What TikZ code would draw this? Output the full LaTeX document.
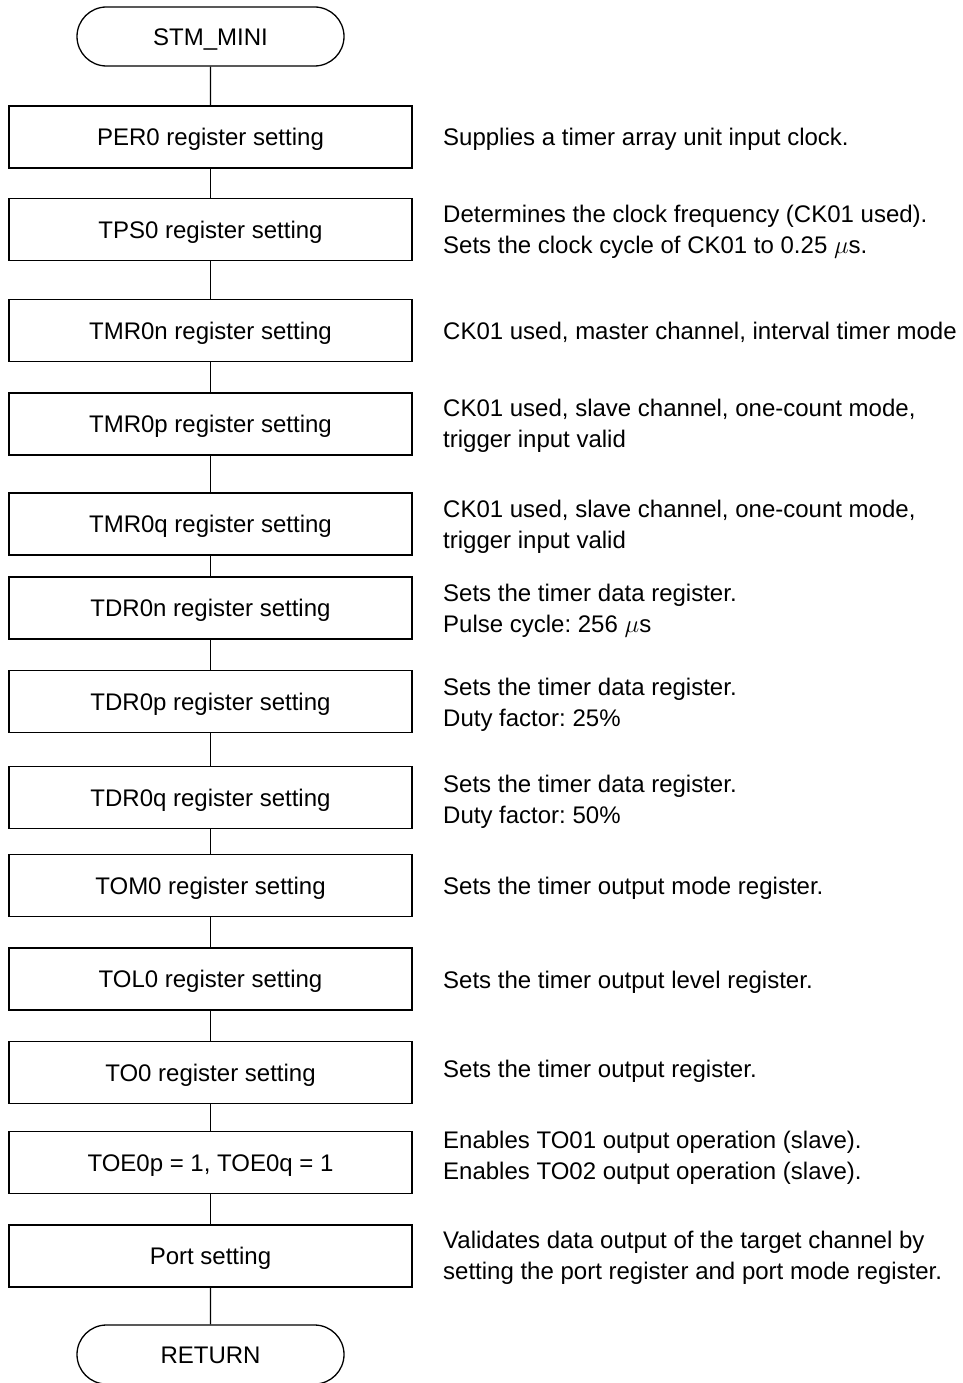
\documentclass[tikz,border=0pt]{standalone}
\usepackage{fontspec}
\setmainfont{Liberation Sans}
\usetikzlibrary{shapes.misc}
\begin{document}
\begin{tikzpicture}[x=1pt,y=-1pt,
  txt/.style={font=\fontsize{24}{31}\selectfont\frenchspacing},
  procbox/.style={txt, draw, line width=1.8pt, minimum width=403pt, minimum height=62pt,
    inner sep=0pt, text height=17.2pt, text depth=0pt},
  termbox/.style={txt, draw, line width=1.3pt, rounded rectangle, minimum width=267pt,
    minimum height=59pt, inner sep=0pt, text height=17.2pt, text depth=0pt},
  note/.style={txt, anchor=base west, align=left, inner sep=0pt},
  link/.style={line width=1.3pt}]
\useasboundingbox (0,0) rectangle (963,1383);
\fill[white] (0,0) rectangle (963,1383);

\node[termbox] (t0) at (210.5,36.5) {STM\_MINI};
\node[procbox] (b1) at (210.5,137) {PER0 register setting};
\node[procbox] (b2) at (210.5,229.5) {TPS0 register setting};
\node[procbox] (b3) at (210.5,330.5) {TMR0n register setting};
\node[procbox] (b4) at (210.5,424) {TMR0p register setting};
\node[procbox] (b5) at (210.5,524) {TMR0q register setting};
\node[procbox] (b6) at (210.5,608) {TDR0n register setting};
\node[procbox] (b7) at (210.5,701.5) {TDR0p register setting};
\node[procbox] (b8) at (210.5,797.5) {TDR0q register setting};
\node[procbox] (b9) at (210.5,885.5) {TOM0 register setting};
\node[procbox] (b10) at (210.5,979) {TOL0 register setting};
\node[procbox] (b11) at (210.5,1072.5) {TO0 register setting};
\node[procbox] (b12) at (210.5,1162.5) {TOE0p = 1, TOE0q = 1};
\node[procbox] (b13) at (210.5,1256) {Port setting};
\node[termbox] (t1) at (210.5,1354.5) {RETURN};

\draw[link] (t0) -- (b1);
\draw[link] (b1) -- (b2);
\draw[link] (b2) -- (b3);
\draw[link] (b3) -- (b4);
\draw[link] (b4) -- (b5);
\draw[link] (b5) -- (b6);
\draw[link] (b6) -- (b7);
\draw[link] (b7) -- (b8);
\draw[link] (b8) -- (b9);
\draw[link] (b9) -- (b10);
\draw[link] (b10) -- (b11);
\draw[link] (b11) -- (b12);
\draw[link] (b12) -- (b13);
\draw[link] (b13) -- (t1);

\node[note] (n1) at (443,146) {Supplies a timer array unit input clock.};
\node[note] (n2) at (443,253) {Determines the clock frequency (CK01 used).\\Sets the clock cycle of CK01 to 0.25 $\mu$s.};
\node[note] (n3) at (443,339) {CK01 used, master channel, interval timer mode};
\node[note] (n4) at (443,447) {CK01 used, slave channel, one-count mode,\\trigger input valid};
\node[note] (n5) at (443,548) {CK01 used, slave channel, one-count mode,\\trigger input valid};
\node[note] (n6) at (443,632) {Sets the timer data register.\\Pulse cycle: 256 $\mu$s};
\node[note] (n7) at (443,726) {Sets the timer data register.\\Duty factor: 25\%};
\node[note] (n8) at (443,823) {Sets the timer data register.\\Duty factor: 50\%};
\node[note] (n9) at (443,894) {Sets the timer output mode register.};
\node[note] (n10) at (443,988) {Sets the timer output level register.};
\node[note] (n11) at (443,1077) {Sets the timer output register.};
\node[note] (n12) at (443,1179) {Enables TO01 output operation (slave).\\Enables TO02 output operation (slave).};
\node[note] (n13) at (443,1279) {Validates data output of the target channel by\\setting the port register and port mode register.};
\end{tikzpicture}
\end{document}
